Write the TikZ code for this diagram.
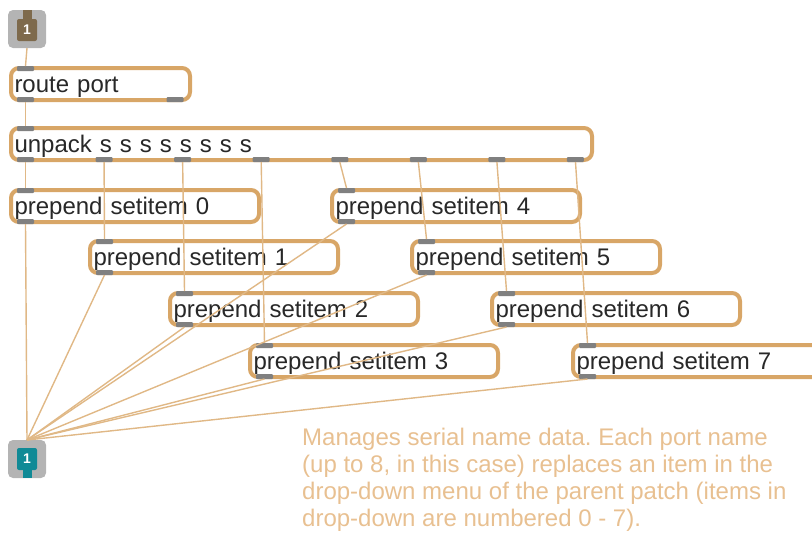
\documentclass[tikz,border=0pt]{standalone}
\usepackage{fontspec}
\setmainfont{Liberation Sans}
\usetikzlibrary{calc}
\definecolor{objborder}{RGB}{216,166,103}
\definecolor{wirec}{RGB}{224,184,134}
\definecolor{portc}{RGB}{128,128,128}
\definecolor{notec}{RGB}{232,192,145}
\definecolor{iogray}{RGB}{180,180,180}
\definecolor{inbrown}{RGB}{126,106,76}
\definecolor{outteal}{RGB}{16,138,150}
\definecolor{objtext}{RGB}{40,40,40}
\frenchspacing
\begin{document}
\begin{tikzpicture}[x=1pt,y=-1pt,
  obj/.style={draw=objborder, line width=4pt, rounded corners=8pt, fill=white,
    anchor=north west, inner xsep=3.5pt, inner ysep=0pt, minimum height=32pt,
    text height=21pt, text depth=5pt,
    text width=#1, align=left, text=objtext, font=\fontsize{24}{28}\selectfont},
  port/.style={fill=portc, minimum width=17pt, minimum height=5pt, inner sep=0pt, outer sep=0pt, rounded corners=1pt},
  wire/.style={draw=wirec, line width=1.4pt},
  iobox/.style={fill=iogray, rounded corners=5pt, minimum width=38pt, minimum height=38pt, inner sep=0pt, outer sep=0pt},
  ioin/.style={fill=#1, rounded corners=2pt, minimum width=20pt, minimum height=22pt, inner sep=0pt,
    text=white, font=\bfseries\fontsize{14}{14}\selectfont}
]
\useasboundingbox (0,0) rectangle (812,533);

% inlet
\node[iobox] (inb) at (27,29) {};
\fill[inbrown] (23,10) rectangle (32,20);
\node[ioin=inbrown] (inbin) at (27,30) {1};

% outlet
\node[iobox] (outb) at (27,459) {};
\fill[outteal] (23,466) rectangle (32,478);
\node[ioin=outteal] (outbin) at (27,459) {1};

% route port
\node[obj=172pt] (route) at (9,66) {route port};
\node[port] (ri) at ($(route.north west)+(16.5,2.5)$) {};
\node[port] (ro0) at ($(route.south west)+(16.5,-2.5)$) {};
\node[port] (ro1) at ($(route.south east)+(-17,-2.5)$) {};

% unpack
\node[obj=574pt] (up) at (9,126) {unpack s s s s s s s s};
\node[port] (ui) at ($(up.north west)+(16.5,2.5)$) {};
\foreach \k in {0,...,7}
  \node[port] (uo\k) at ($(up.south west)+(16.5+\k*78.57,-2.5)$) {};

% prepend boxes
\foreach \i/\x/\y in {0/9/188, 1/88/239, 2/168/291, 3/248/343, 4/330/188, 5/410/239, 6/490/291, 7/571/343} {
  \node[obj=241pt] (p\i) at (\x,\y) {prepend setitem \i};
  \node[port] (pi\i) at ($(p\i.north west)+(16.5,2.5)$) {};
  \node[port] (po\i) at ($(p\i.south west)+(16.5,-2.5)$) {};
}

% wires
\draw[wire] (inb.south) -- (ri.north);
\draw[wire] (ro0.south) -- (ui.north);
\foreach \k in {0,...,7} {
  \draw[wire] (uo\k.south) -- (pi\k.north);
  \draw[wire] (po\k.south) -- (outb.north);
}

% comment
\node[anchor=north west, inner sep=0pt, align=left, text=notec,
  font=\fontsize{24}{27}\selectfont] (note) at (302,428)
  {Manages serial name data. Each port name\\(up to 8, in this case) replaces an item in the\\drop-down menu of the parent patch (items in\\drop-down are numbered 0 - 7).};
\end{tikzpicture}
\end{document}
